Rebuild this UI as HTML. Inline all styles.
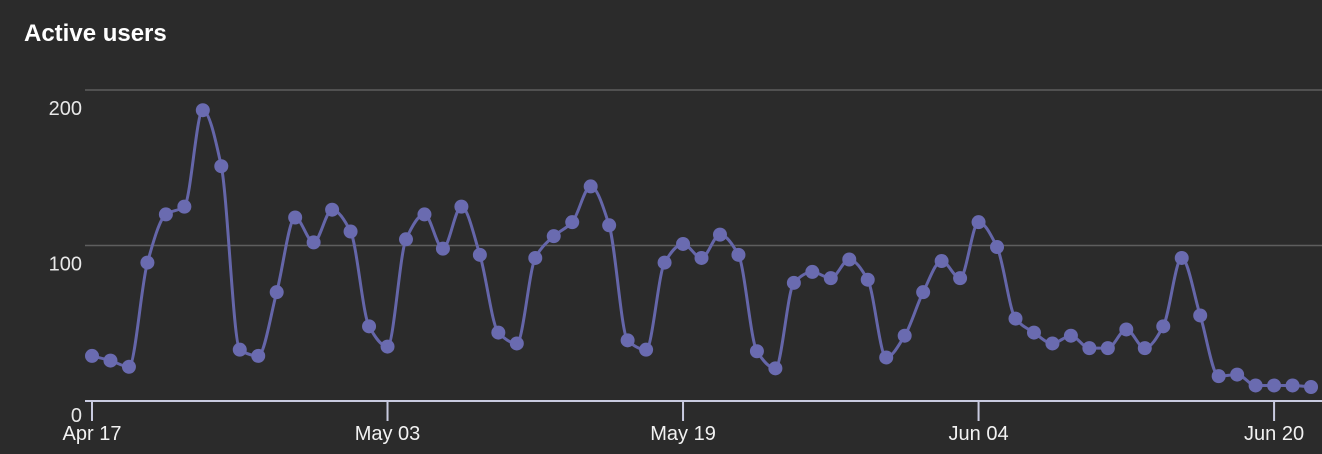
<!DOCTYPE html>
<html><head><meta charset="utf-8">
<style>
html,body{margin:0;padding:0;background:#2b2b2b;}
body{width:1322px;height:454px;overflow:hidden;font-family:"Liberation Sans",sans-serif;}
#title{position:absolute;left:24px;top:20px;color:#fff;font-weight:bold;font-size:24px;}
</style></head><body>
<div id="title">Active users</div>
<svg id="chart" width="1322" height="454" style="position:absolute;left:0;top:0"></svg>
<script>
const startDate = [2024, 3, 17];
const values = [29,26,22,89,120,125,187,151,33,29,70,118,102,123,109,48,35,104,120,98,125,94,44,37,92,106,115,138,113,39,33,89,101,92,107,94,32,21,76,83,79,91,78,28,42,70,90,79,115,99,53,44,37,42,34,34,46,34,48,92,55,16,17,10,10,10,9];
const yTicks = [0,100,200];
const xTickLabels = ["Apr 17","May 03","May 19","Jun 04","Jun 20"];
const xTickIndex = [0,16,32,48,64];

const NS="http://www.w3.org/2000/svg";
const svg=document.getElementById('chart');
const x0=92, dx=18.47, y0=401, ky=1.555;
const X=i=>x0+i*dx, Y=v=>y0-v*ky;
function mk(t,a){const e=document.createElementNS(NS,t);for(const k in a)e.setAttribute(k,a[k]);svg.appendChild(e);return e;}
yTicks.forEach(v=>{
  if(v>0){const g=mk('line',{x1:85,x2:1322,y1:Y(v),y2:Y(v),stroke:'#5e5e5e','stroke-width':1.5});
  
  }
  const t=mk('text',{x:82,y:0,'text-anchor':'end',fill:'#e8e8e8','font-size':20,'font-family':'Liberation Sans, sans-serif'});
  t.setAttribute('y', v===0? 422 : Y(v)+25);
  t.textContent=v;
  
  
});
const ax=mk('line',{x1:85,x2:1322,y1:y0,y2:y0,stroke:'#c9cbe0','stroke-width':2});


xTickLabels.forEach((l,j)=>{
  const xx=X(xTickIndex[j]);
  const tk=mk('line',{x1:xx,x2:xx,y1:y0,y2:y0+20,stroke:'#c9cbe0','stroke-width':2});
  
  
  const t=mk('text',{x:xx,y:440,'text-anchor':'middle',fill:'#f2f2f2','font-size':20,'font-family':'Liberation Sans, sans-serif'});
  t.textContent=l;
  
  
});
const pts=values.map((v,i)=>[X(i),Y(v)]);
const n=pts.length, m=[];
const d=[];for(let i=0;i<n-1;i++)d.push((pts[i+1][1]-pts[i][1])/(pts[i+1][0]-pts[i][0]));
for(let i=0;i<n;i++){
  if(i===0)m.push(d[0]);else if(i===n-1)m.push(d[n-2]);
  else m.push(d[i-1]*d[i]<=0?0:2/(1/d[i-1]+1/d[i]));
}
let p=`M${pts[0][0]},${pts[0][1]}`;
for(let i=0;i<n-1;i++){
  const h=(pts[i+1][0]-pts[i][0])/3;
  p+=` C${pts[i][0]+h},${pts[i][1]+m[i]*h} ${pts[i+1][0]-h},${pts[i+1][1]-m[i+1]*h} ${pts[i+1][0]},${pts[i+1][1]}`;
}
const line=mk('path',{d:p,fill:'none',stroke:'#6566a9','stroke-width':3});


pts.forEach(q=>{
  const c=mk('circle',{cx:q[0],cy:q[1],r:7,fill:'#6a6bb0'});
  
  
});
</script>
</body></html>
